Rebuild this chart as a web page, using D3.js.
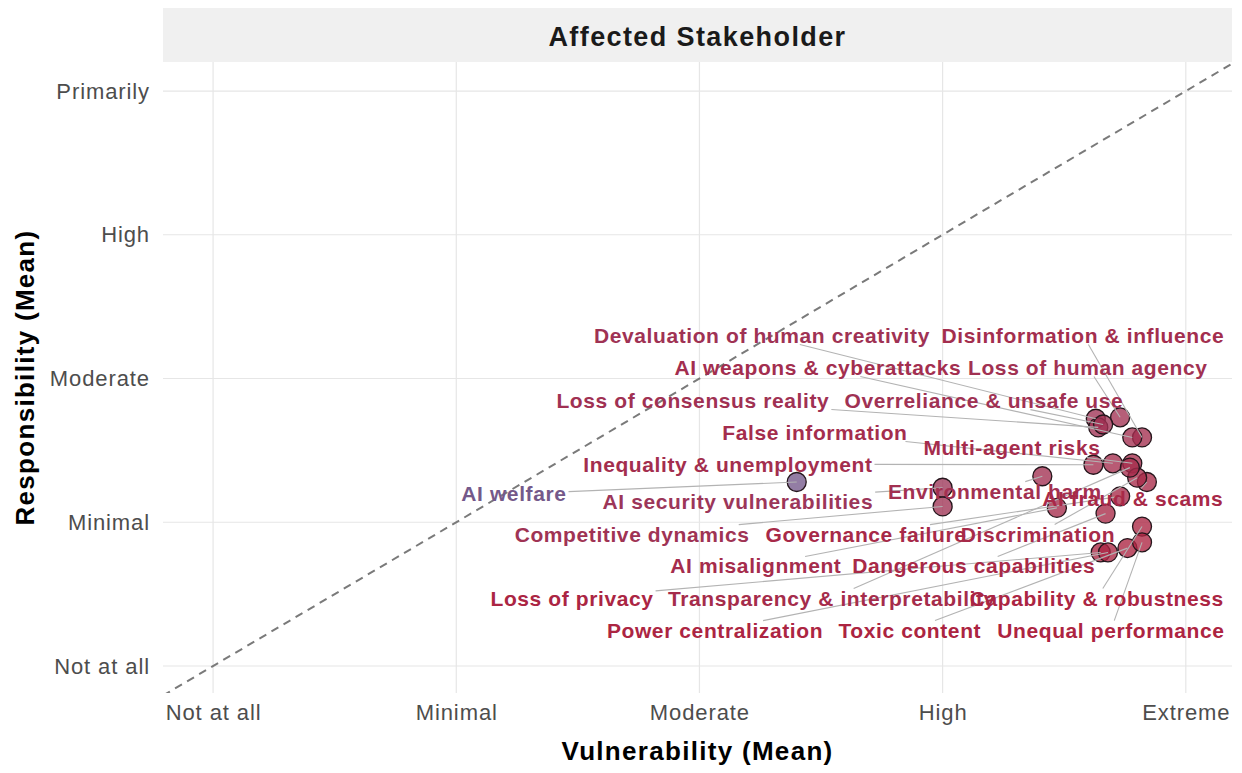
<!DOCTYPE html>
<html>
<head>
<meta charset="utf-8">
<script src="https://cdn.jsdelivr.net/npm/d3@7"></script>
<style>
  body { margin: 0; background: #fff; }
  svg text { font-family: "Liberation Sans", Arial, Helvetica, sans-serif; }
</style>
</head>
<body>
<div id="chart"></div>
<script>
// Data
const risks = [
  "Devaluation of human creativity", "Disinformation & influence", "AI weapons & cyberattacks",
  "Loss of human agency", "Loss of consensus reality", "Overreliance & unsafe use",
  "False information", "Multi-agent risks", "Inequality & unemployment", "AI welfare",
  "AI security vulnerabilities", "Environmental harm", "AI fraud & scams", "Competitive dynamics",
  "Governance failure", "Discrimination", "AI misalignment", "Dangerous capabilities",
  "Loss of privacy", "Transparency & interpretability", "Capability & robustness",
  "Power centralization", "Toxic content", "Unequal performance"
];
const vulnerability = [
  4.63, 4.82, 4.78, 4.73, 4.64, 4.66,
  4.70, 4.78, 4.62, 3.40,
  4.00, 4.41, 4.84, 4.00,
  4.73, 4.80, 4.47, 4.67,
  4.65, 4.77, 4.82,
  4.68, 4.76, 4.82
];
const responsibility = [
  2.72, 2.59, 2.59, 2.73, 2.66, 2.68,
  2.41, 2.41, 2.40, 2.28,
  2.24, 2.32, 2.28, 2.11,
  2.18, 2.31, 2.10, 2.06,
  1.79, 2.38, 1.97,
  1.79, 1.82, 1.86
];
// repelled label positions (data units)
const labelVul = [
  3.257, 4.577, 3.487, 4.597, 2.973, 4.170,
  3.475, 4.285, 3.117, 2.237,
  3.158, 4.215, 4.782, 2.723,
  3.685, 4.392, 3.232, 4.128,
  2.476, 3.545, 4.634,
  3.064, 3.865, 4.692
];
const labelResp = [
  3.303, 3.303, 3.080, 3.080, 2.850, 2.850,
  2.628, 2.517, 2.405, 2.197,
  2.148, 2.217, 2.169, 1.918,
  1.918, 1.918, 1.696, 1.696,
  1.473, 1.473, 1.473,
  1.250, 1.250, 1.250
];
const levels = ["Not at all", "Minimal", "Moderate", "High", "Extreme"];
const respLevels = ["Not at all", "Minimal", "Moderate", "High", "Primarily"];

const data = risks.map((r, i) => ({
  risk: r, vul: vulnerability[i], resp: responsibility[i],
  lx: labelVul[i], ly: labelResp[i], gap: vulnerability[i] - responsibility[i]
}));

// Dimensions
const width = 1242, height = 773;
const panel = { left: 163, right: 1232, top: 62, bottom: 693 };

const svg = d3.select("#chart").append("svg")
  .attr("width", width)
  .attr("height", height);

const x = d3.scaleLinear().domain([0.794, 5.19]).range([panel.left, panel.right]);
const y = d3.scaleLinear().domain([0.812, 5.202]).range([panel.bottom, panel.top]);

const color = d3.scaleLinear()
  .domain([1.1, 1.8, 3.0])
  .range(["#735a8c", "#9e3456", "#ad2340"]);

// Strip
svg.append("rect")
  .attr("x", panel.left).attr("y", 8)
  .attr("width", panel.right - panel.left).attr("height", 54)
  .attr("fill", "#f0f0f0");
svg.append("text")
  .attr("x", (panel.left + panel.right) / 2).attr("y", 36)
  .attr("dy", "0.36em")
  .attr("text-anchor", "middle")
  .style("font-size", "27px").style("font-weight", "bold")
  .style("letter-spacing", "1.4px")
  .attr("fill", "#1a1a1a")
  .text("Affected Stakeholder");

// Grid
const grid = svg.append("g");
grid.selectAll(".gx").data(d3.range(1, 6)).enter().append("line")
  .attr("x1", d => x(d)).attr("x2", d => x(d))
  .attr("y1", panel.top).attr("y2", panel.bottom)
  .attr("stroke", "#e6e6e6").attr("stroke-width", 1.2);
grid.selectAll(".gy").data(d3.range(1, 6)).enter().append("line")
  .attr("y1", d => y(d)).attr("y2", d => y(d))
  .attr("x1", panel.left).attr("x2", panel.right)
  .attr("stroke", "#e6e6e6").attr("stroke-width", 1.2);

// Axes (ticks only as text)
const xAxis = svg.append("g")
  .attr("transform", `translate(0, ${panel.bottom + 8})`)
  .call(d3.axisBottom(x).tickValues([1, 2, 3, 4, 5]).tickSize(0).tickFormat((d, i) => levels[i]));
xAxis.select(".domain").remove();
xAxis.selectAll("text")
  .attr("fill", "#4d4d4d").attr("dy", "0.71em")
  .style("font-size", "22px").style("letter-spacing", "0.9px");

const yAxis = svg.append("g")
  .attr("transform", `translate(${panel.left - 10}, 0)`)
  .call(d3.axisLeft(y).tickValues([1, 2, 3, 4, 5]).tickSize(0).tickFormat((d, i) => respLevels[i]));
yAxis.select(".domain").remove();
yAxis.selectAll("text")
  .attr("fill", "#4d4d4d")
  .style("font-size", "22px").style("letter-spacing", "0.9px");

// Axis titles
svg.append("text")
  .attr("x", (panel.left + panel.right) / 2).attr("y", 760)
  .attr("text-anchor", "middle")
  .style("font-size", "26px").style("font-weight", "bold")
  .style("letter-spacing", "1.3px")
  .attr("fill", "#000")
  .text("Vulnerability (Mean)");
svg.append("text")
  .attr("transform", `translate(34, ${(panel.top + panel.bottom) / 2}) rotate(-90)`)
  .attr("text-anchor", "middle")
  .style("font-size", "26px").style("font-weight", "bold")
  .style("letter-spacing", "1.3px")
  .attr("fill", "#000")
  .text("Responsibility (Mean)");

// Clip
svg.append("clipPath").attr("id", "clip")
  .append("rect")
  .attr("x", panel.left).attr("y", panel.top)
  .attr("width", panel.right - panel.left).attr("height", panel.bottom - panel.top);

// Diagonal y = x
svg.append("line")
  .attr("clip-path", "url(#clip)")
  .attr("x1", x(0.794)).attr("y1", y(0.794))
  .attr("x2", x(5.19)).attr("y2", y(5.19))
  .attr("stroke", "#7a7a7a").attr("stroke-width", 2)
  .attr("stroke-dasharray", "8,6");

// Points
svg.append("g").selectAll("circle")
  .data(data).enter().append("circle")
  .attr("cx", d => x(d.vul)).attr("cy", d => y(d.resp))
  .attr("r", 9.5)
  .attr("fill", d => color(d.gap))
  .attr("fill-opacity", 0.78)
  .attr("stroke", "#25161c").attr("stroke-width", 1.3);

// Labels
const segG = svg.append("g");
const labels = svg.append("g").selectAll("text")
  .data(data).enter().append("text")
  .attr("x", d => x(d.lx)).attr("y", d => y(d.ly))
  .attr("dy", "0.36em")
  .attr("text-anchor", "middle")
  .style("font-size", "21px").style("font-weight", "bold")
  .style("letter-spacing", "0.6px")
  .attr("fill", d => color(d.gap))
  .text(d => d.risk);

// Leader segments from label box edge to point
labels.each(function (d) {
  const b = this.getBBox();
  const cx = b.x + b.width / 2, cy = b.y + b.height / 2;
  const px = x(d.vul), py = y(d.resp);
  const dx = px - cx, dy = py - cy;
  const hw = b.width / 2 + 2, hh = b.height / 2 - 2;
  const t = Math.min(Math.abs(dx) > 0 ? hw / Math.abs(dx) : Infinity,
                     Math.abs(dy) > 0 ? hh / Math.abs(dy) : Infinity);
  if (t >= 1) return;
  segG.append("line")
    .attr("x1", cx + dx * t).attr("y1", cy + dy * t)
    .attr("x2", px).attr("y2", py)
    .attr("stroke", "#b3b3b3").attr("stroke-width", 1.1);
});
</script>
</body>
</html>
